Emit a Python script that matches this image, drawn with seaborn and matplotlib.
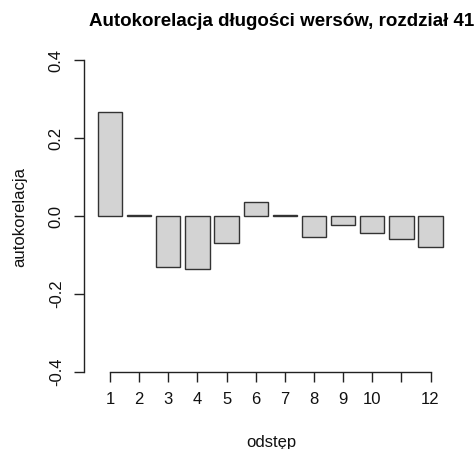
import matplotlib
matplotlib.use("Agg")
import matplotlib.pyplot as plt
import seaborn as sns
import pandas as pd

lags = [1, 2, 3, 4, 5, 6, 7, 8, 9, 10, 11, 12]
acf = [0.266, 0.003, -0.132, -0.137, -0.070, 0.035, 0.003, -0.053, -0.023, -0.044, -0.059, -0.080]
xtick_labels = ["1", "2", "3", "4", "5", "6", "7", "8", "9", "10", "", "12"]
yticks = [-0.4, -0.2, 0.0, 0.2, 0.4]
title = "Autokorelacja długości wersów, rozdział 41"
xlabel = "odstęp"
ylabel = "autokorelacja"

sns.set_style("white")
plt.rcParams["font.family"] = ["Liberation Sans", "DejaVu Sans"]

df = pd.DataFrame({"lag": [str(l) for l in lags], "acf": acf})

W, H = 475, 449
fig = plt.figure(figsize=(W / 100, H / 100), dpi=100)
ax = fig.add_axes([84 / W, 1 - 372 / H, (456.5 - 84) / W, (372 - 60) / H])

sns.barplot(data=df, x="lag", y="acf", ax=ax, color="#d3d3d3", width=1 / 1.2,
            edgecolor="#333333", linewidth=1.0, saturation=1)

ax.set_xlim(-0.89, 11.89)
ax.set_ylim(-0.4, 0.4)

for s in ["top", "right"]:
    ax.spines[s].set_visible(False)
ax.spines["left"].set_bounds(-0.4, 0.4)
ax.spines["bottom"].set_bounds(0, 11)
for s in ["left", "bottom"]:
    ax.spines[s].set_color("#222222")
    ax.spines[s].set_linewidth(1.0)

ax.set_yticks(yticks)
ax.set_yticklabels([f"{v:.1f}" for v in yticks], rotation=90, va="center")
ax.set_xticks(range(len(lags)))
ax.set_xticklabels(xtick_labels)
ax.tick_params(axis="both", direction="out", length=7.5, width=1.0, color="#222222",
               labelsize=12, labelcolor="#111111", left=True, bottom=True)
ax.tick_params(axis="x", pad=7)
ax.tick_params(axis="y", pad=7)

ax.set_xlabel("")
ax.set_ylabel("")
fig.text(271 / W, 1 - 442 / H, xlabel, ha="center", va="center", fontsize=12, color="#111111")
fig.text(20 / W, 1 - 217 / H, ylabel, ha="center", va="center", rotation=90, fontsize=12, color="#111111")
fig.text(282 / W, 1 - 21 / H, title, ha="center", va="center", fontsize=13.5, fontweight="bold", color="#000000")

fig.savefig("out.png", dpi=100)
